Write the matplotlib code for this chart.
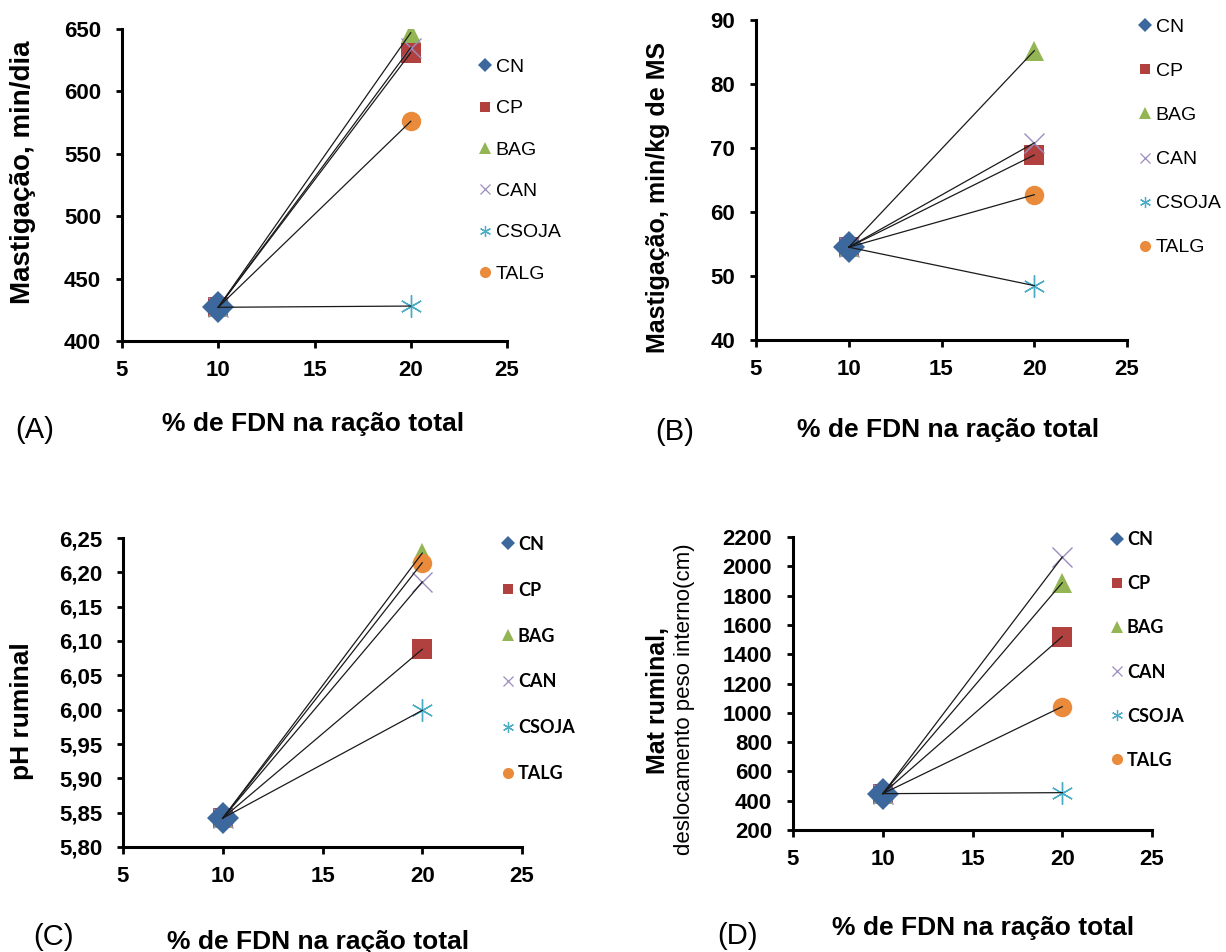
import matplotlib
matplotlib.use("Agg")
import matplotlib.pyplot as plt
from matplotlib.lines import Line2D

plt.rcParams["font.family"] = ["Liberation Sans", "DejaVu Sans"]

W, H = 1226, 952

# treatments plotted against the CN control
series = ["CP", "BAG", "CAN", "CSOJA", "TALG"]
fdn_levels = [10, 20]

mast_dia_cn = 427
mast_dia = [631, 647, 635, 428, 576]

mast_ms_cn = 54.5
mast_ms = [68.9, 85.2, 70.8, 48.5, 62.7]

ph_cn = 5.842
ph = [6.088, 6.228, 6.186, 5.999, 6.214]

mat_cn = 448
mat = [1520, 1888, 2063, 455, 1042]

yticks_a = [400, 450, 500, 550, 600, 650]
yticks_b = [40, 50, 60, 70, 80, 90]
yticks_c = [5.80, 5.85, 5.90, 5.95, 6.00, 6.05, 6.10, 6.15, 6.20, 6.25]
yticks_d = [200, 400, 600, 800, 1000, 1200, 1400, 1600, 1800, 2000, 2200]
xticks = [5, 10, 15, 20, 25]

styles = {
    "CN": dict(marker="D", color="#3D689E", ms=16, mew=0),
    "CP": dict(marker="s", color="#B0413E", ms=14, mew=0),
    "BAG": dict(marker="^", color="#93B553", ms=15, mew=0),
    "CAN": dict(marker="x", color="#9C8CC0", ms=15, mew=1.0),
    "CSOJA": dict(marker=(6, 2, 0), color="#4BACC6", ms=16, mew=1.0),
    "TALG": dict(marker="o", color="#E98B3B", ms=14, mew=0),
}
legend_ms = {"CN": 7, "CP": 7.5, "BAG": 8, "CAN": 7.5, "CSOJA": 8, "TALG": 8}


def px_text(fig, x, y, s, **kw):
    fig.text(x / W, 1 - y / H, s, **kw)


def make_axes(fig, left, top, right, bottom):
    return fig.add_axes([left / W, 1 - bottom / H, (right - left) / W, (bottom - top) / H])


def draw_panel(ax, ctrl, vals, yticks, ylabels, ylim):
    for name, v in zip(series, vals):
        st = styles[name]
        ax.plot(fdn_levels, [ctrl, v], ls="none", marker=st["marker"], ms=st["ms"],
                color=st["color"], mec=st["color"], mew=st["mew"], zorder=3)
    st = styles["CN"]
    ax.plot([fdn_levels[0]], [ctrl], ls="none", marker=st["marker"], ms=st["ms"],
            color=st["color"], mew=0, zorder=3.5)
    for v in vals:
        ax.plot(fdn_levels, [ctrl, v], color="#1a1a1a", lw=0.9, zorder=4)

    ax.set_xlim(5, 25)
    ax.set_ylim(*ylim)
    ax.set_xticks(xticks)
    ax.set_xticklabels([str(t) for t in xticks], fontsize=16, fontweight="bold")
    ax.set_yticks(yticks)
    ax.set_yticklabels(ylabels, fontsize=16, fontweight="bold")
    for side in ("top", "right"):
        ax.spines[side].set_visible(False)
    for side in ("left", "bottom"):
        ax.spines[side].set_linewidth(2.2)
    ax.tick_params(axis="y", direction="out", length=4, width=2, pad=11)
    ax.tick_params(axis="x", direction="out", length=5, width=2, pad=9)
    ax.patch.set_alpha(0)


def add_legend(ax, x_marker, y_first, y_last, fontsize, spacing, family, weight):
    handles = []
    for name in ["CN"] + series:
        st = styles[name]
        handles.append(Line2D([], [], ls="none", marker=st["marker"], ms=legend_ms[name],
                              color=st["color"], mew=0.9 if st["mew"] else 0))
    fs_px = fontsize * 100 / 72
    hl = 0.6
    leg = ax.legend(handles, ["CN"] + series, loc="center left",
                    bbox_to_anchor=((x_marker - hl * fs_px / 2) / W, 1 - (y_first + y_last) / 2 / H),
                    bbox_transform=ax.figure.transFigure, frameon=False,
                    handlelength=hl, handletextpad=0.25, borderpad=0, borderaxespad=0,
                    labelspacing=spacing,
                    prop=dict(family=family, weight=weight, size=fontsize))
    return leg


fig = plt.figure(figsize=(W / 100, H / 100), dpi=100)

xlabel = "% de FDN na ração total"

# (A) chewing time per day
ax_a = make_axes(fig, 122, 29, 507, 341)
draw_panel(ax_a, mast_dia_cn, mast_dia, yticks_a, [str(t) for t in yticks_a], (400, 650))
add_legend(ax_a, 485, 63, 278, 14, 1.22, ["Liberation Sans"], "normal")
px_text(fig, 23, 172, "Mastigação, min/dia", rotation=90, ha="center", va="center",
        fontsize=20, fontweight="bold")
px_text(fig, 313, 424, xlabel, ha="center", va="center", fontsize=19, fontweight="bold")
px_text(fig, 15, 430, "(A)", ha="left", va="center", fontsize=21)

# (B) chewing time per kg of dry matter
ax_b = make_axes(fig, 756, 20, 1127, 340)
draw_panel(ax_b, mast_ms_cn, mast_ms, yticks_b, [str(t) for t in yticks_b], (40, 90))
add_legend(ax_b, 1145, 23, 252, 14, 1.36, ["Liberation Sans"], "normal")
px_text(fig, 658, 197, "Mastigação, min/kg de MS", rotation=90, ha="center", va="center",
        fontsize=18, fontweight="bold")
px_text(fig, 948, 430, xlabel, ha="center", va="center", fontsize=19, fontweight="bold")
px_text(fig, 655, 432, "(B)", ha="left", va="center", fontsize=21)

# (C) ruminal pH
ax_c = make_axes(fig, 123, 538, 522, 847)
draw_panel(ax_c, ph_cn, ph, yticks_c, [f"{t:.2f}".replace(".", ",") for t in yticks_c],
           (5.80, 6.25))
add_legend(ax_c, 508, 541, 777, 13, 1.6, ["Lato", "DejaVu Sans"], "bold")
px_text(fig, 22, 711, "pH ruminal", rotation=90, ha="center", va="center",
        fontsize=19, fontweight="bold")
px_text(fig, 318, 942, xlabel, ha="center", va="center", fontsize=19, fontweight="bold")
px_text(fig, 33, 937, "(C)", ha="left", va="center", fontsize=21)

# (D) ruminal mat
ax_d = make_axes(fig, 793, 537, 1152, 830)
draw_panel(ax_d, mat_cn, mat, yticks_d, [str(t) for t in yticks_d], (200, 2200))
add_legend(ax_d, 1117, 537, 763, 13, 1.5, ["Lato", "DejaVu Sans"], "bold")
px_text(fig, 658, 700, "Mat ruminal,", rotation=90, ha="center", va="center",
        fontsize=18, fontweight="bold")
px_text(fig, 685, 699, "deslocamento peso interno(cm)", rotation=90, ha="center", va="center",
        fontsize=16)
px_text(fig, 983, 928, xlabel, ha="center", va="center", fontsize=19, fontweight="bold")
px_text(fig, 717, 936, "(D)", ha="left", va="center", fontsize=21)

fig.savefig("out.png", dpi=100)
